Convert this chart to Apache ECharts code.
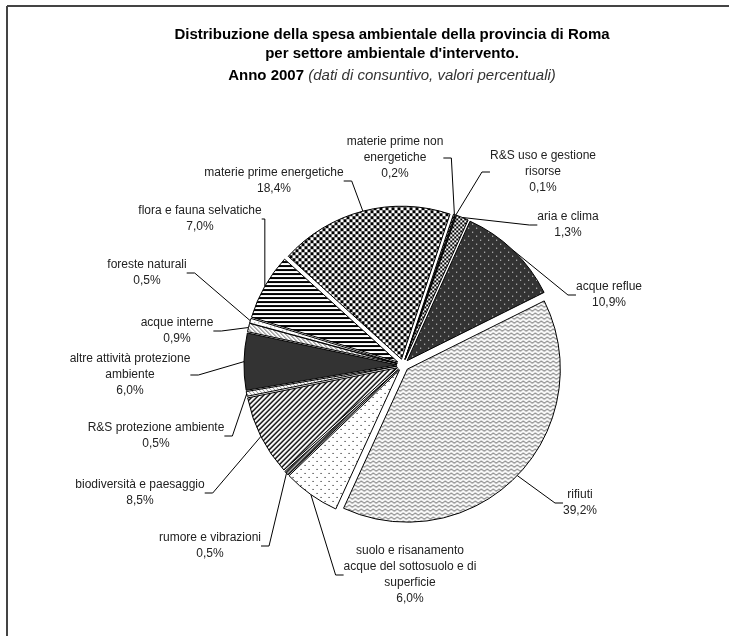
<!DOCTYPE html>
<html><head><meta charset="utf-8">
<script src="https://cdn.jsdelivr.net/npm/echarts@6/dist/echarts.min.js"></script>
<style>html,body{margin:0;padding:0;background:#fff}#c{width:729px;height:636px}</style>
</head><body><div id="c"></div>
<script>
// ---- data ----
const categories = [
  'materie prime non energetiche',
  'R&S uso e gestione risorse',
  'aria e clima',
  'acque reflue',
  'rifiuti',
  'suolo e risanamento acque del sottosuolo e di superficie',
  'rumore e vibrazioni',
  'biodiversità e paesaggio',
  'R&S protezione ambiente',
  'altre attività protezione ambiente',
  'acque interne',
  'foreste naturali',
  'flora e fauna selvatiche',
  'materie prime energetiche'
];
const values = [0.2, 0.1, 1.3, 10.9, 39.2, 6.0, 0.5, 8.5, 0.5, 6.0, 0.9, 0.5, 7.0, 18.4];
const labelTexts = [
  'materie prime non\nenergetiche',
  'R&S uso e gestione\nrisorse',
  'aria e clima',
  'acque reflue',
  'rifiuti',
  'suolo e risanamento\nacque del sottosuolo e di\nsuperficie',
  'rumore e vibrazioni',
  'biodiversità e paesaggio',
  'R&S protezione ambiente',
  'altre attività protezione\nambiente',
  'acque interne',
  'foreste naturali',
  'flora e fauna selvatiche',
  'materie prime energetiche'
];
const titleLines = [
  'Distribuzione della spesa ambientale della provincia di Roma',
  "per settore ambientale d'intervento.",
  'Anno 2007 ',
  '(dati di consuntivo, valori percentuali)'
];

// ---- label placement (layout, not data) ----
const labelCenters = [
  [395, 158], [543, 172], [568, 225], [609, 295], [580, 503], [410, 575], [210, 546],
  [140, 493], [156, 436], [130, 375], [177, 331], [147, 273], [200, 219], [274, 181]
];

// ---- patterns ----
function pat(w, h, bg, fg, fn) {
  const c = document.createElement('canvas');
  c.width = w; c.height = h;
  const g = c.getContext('2d');
  g.fillStyle = bg; g.fillRect(0, 0, w, h);
  g.fillStyle = fg;
  for (let y = 0; y < h; y++) for (let x = 0; x < w; x++) if (fn(x, y)) g.fillRect(x, y, 1, 1);
  return { image: c, repeat: 'repeat' };
}
function zig() {
  const c = document.createElement('canvas');
  c.width = 6; c.height = 4;
  const g = c.getContext('2d');
  g.fillStyle = '#fff'; g.fillRect(0, 0, 6, 4);
  g.strokeStyle = '#555'; g.lineWidth = 1;
  g.beginPath(); g.moveTo(0, 3.2); g.lineTo(3, 0.8); g.lineTo(6, 3.2); g.stroke();
  return { image: c, repeat: 'repeat' };
}
const fills = [
  pat(3, 3, '#fff', '#000', (x, y) => (x + y) % 3 !== 0),
  pat(2, 2, '#fff', '#000', (x, y) => x === 0 && y === 0),
  pat(4, 4, '#fff', '#000', (x, y) => ((x < 2) !== (y < 2))),
  pat(8, 8, '#333', '#fff', (x, y) => (x === 0 && y === 0) || (x === 4 && y === 4)),
  zig(),
  pat(8, 8, '#fff', '#000', (x, y) => (x === 0 && y === 0) || (x === 4 && y === 4)),
  pat(4, 4, '#fff', '#333', (x, y) => (x + y) % 4 !== 0),
  pat(5, 5, '#fff', '#000', (x, y) => (x + y) % 5 < 2),
  pat(4, 4, '#fff', '#888', (x, y) => (x - y + 8) % 4 === 0),
  '#333',
  pat(4, 4, '#fff', '#555', (x, y) => (x - y + 8) % 4 === 0),
  pat(4, 4, '#fff', '#777', (x, y) => x === 0 && y === 0),
  pat(4, 4, '#fff', '#000', (x, y) => y < 2),
  pat(6, 6, '#fff', '#000', (x, y) => ((x < 3) === (y < 3)))
];

const fmt = v => v.toFixed(1).replace('.', ',') + '%';
const CENTER = [403, 365];
const R = 153;
const OFFSET = 6;
const START = 71.5;

const chart = echarts.init(document.getElementById('c'), null, { renderer: 'canvas' });
const titleFont = 'bold 15px "Liberation Sans", Arial';
chart.setOption({
  animation: false,
  backgroundColor: '#fff',
  graphic: [
    { type: 'line', shape: { x1: 7, y1: 6, x2: 729, y2: 6 }, style: { stroke: '#444', lineWidth: 2 } },
    { type: 'line', shape: { x1: 7, y1: 6, x2: 7, y2: 636 }, style: { stroke: '#444', lineWidth: 2 } },
    { type: 'text', x: 392, y: 35, style: { text: titleLines[0], font: titleFont, fill: '#000', align: 'center', verticalAlign: 'middle' } },
    { type: 'text', x: 392, y: 54, style: { text: titleLines[1], font: titleFont, fill: '#000', align: 'center', verticalAlign: 'middle' } },
    { type: 'text', x: 392, y: 76, style: {
        text: '{a|' + titleLines[2] + '}{b|' + titleLines[3] + '}',
        align: 'center', verticalAlign: 'middle',
        rich: {
          a: { font: titleFont, fill: '#000' },
          b: { font: 'italic 15px "Liberation Sans", Arial', fill: '#333' }
        }
    } }
  ],
  series: [{
    type: 'pie',
    center: CENTER,
    radius: R,
    startAngle: START,
    clockwise: true,
    avoidLabelOverlap: false,
    selectedMode: 'multiple',
    selectedOffset: OFFSET,
    silent: true,
    emphasis: { disabled: true },
    itemStyle: { borderColor: '#000', borderWidth: 1 },
    label: { show: false },
    labelLine: { show: false },
    data: categories.map((n, i) => ({ name: n, value: values[i], selected: true, itemStyle: { color: fills[i] } }))
  }, {
    type: 'pie',
    center: CENTER,
    radius: R + OFFSET,
    startAngle: START,
    clockwise: true,
    avoidLabelOverlap: false,
    silent: true,
    z: 3,
    emphasis: { disabled: true },
    itemStyle: { color: 'rgba(0,0,0,0)', borderWidth: 0 },
    label: {
      show: true,
      position: 'outside',
      color: '#222',
      fontFamily: '"Liberation Sans", Arial',
      fontSize: 12,
      lineHeight: 16,
      formatter: p => labelTexts[p.dataIndex] + '\n' + fmt(p.value)
    },
    labelLine: { show: true, length: 10, length2: 8, lineStyle: { color: '#000', width: 1 } },
    labelLayout: p => ({ x: labelCenters[p.dataIndex][0], y: labelCenters[p.dataIndex][1], align: 'center', verticalAlign: 'middle' }),
    data: categories.map((n, i) => ({ name: n, value: values[i] }))
  }]
});
</script>
</body></html>
